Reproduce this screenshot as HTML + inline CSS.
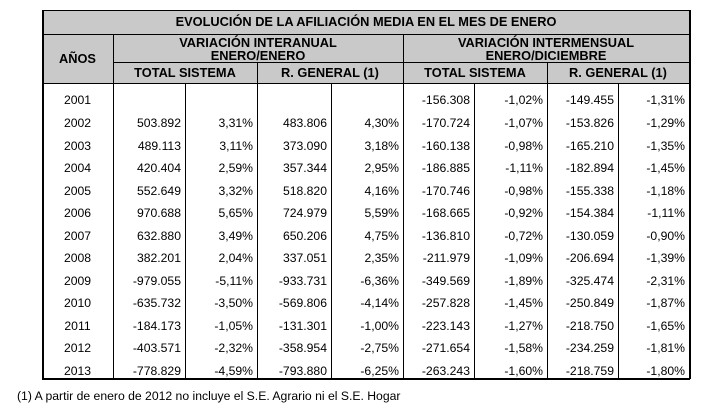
<!DOCTYPE html>
<html><head><meta charset="utf-8">
<style>
*{margin:0;padding:0;box-sizing:border-box}
html,body{width:705px;height:409px;background:#fff;overflow:hidden}
body{position:relative;font-family:"Liberation Sans",sans-serif;color:#000}
.ln{position:absolute;background:#000}
.grey{position:absolute;left:42px;top:10px;width:647px;height:73px;background:#c9c9c9}
.h{position:absolute;font-weight:bold;font-size:12.8px;text-align:center;white-space:nowrap;line-height:13px}
.r{position:absolute;left:0;width:705px;height:14px;line-height:14px;font-size:12.2px}
.r span{position:absolute;top:0;text-align:right;padding-right:4px;white-space:nowrap}
.r span.y{text-align:center;padding:0}
.fn{position:absolute;left:17px;top:389px;font-size:12.2px;line-height:14px;white-space:nowrap}
</style></head><body>
<div class="grey"></div>
<!-- horizontal lines -->
<div class="ln" style="left:42px;top:10px;width:648px;height:1px"></div>
<div class="ln" style="left:42px;top:34px;width:648px;height:1px"></div>
<div class="ln" style="left:113px;top:62px;width:577px;height:1px"></div>
<div class="ln" style="left:42px;top:83px;width:648px;height:1px"></div>
<div class="ln" style="left:42px;top:378px;width:648px;height:1.5px"></div>
<!-- vertical lines -->
<div class="ln" style="left:42px;top:10px;width:1.5px;height:369px"></div>
<div class="ln" style="left:689px;top:10px;width:1.5px;height:369px"></div>
<div class="ln" style="left:113px;top:34px;width:1px;height:345px"></div>
<div class="ln" style="left:403px;top:34px;width:1px;height:345px"></div>
<div class="ln" style="left:257px;top:62px;width:1px;height:317px"></div>
<div class="ln" style="left:547px;top:62px;width:1px;height:317px"></div>
<div class="ln" style="left:185px;top:83px;width:1px;height:296px"></div>
<div class="ln" style="left:331px;top:83px;width:1px;height:296px"></div>
<div class="ln" style="left:474px;top:83px;width:1px;height:296px"></div>
<div class="ln" style="left:618px;top:83px;width:1px;height:296px"></div>

<!-- headers -->
<div class="h" style="left:42px;width:648px;top:15px">EVOLUCIÓN DE LA AFILIACIÓN MEDIA EN EL MES DE ENERO</div>
<div class="h" style="left:42px;width:71px;top:52px">AÑOS</div>
<div class="h" style="left:113px;width:290px;top:36px">VARIACIÓN INTERANUAL<br>ENERO/ENERO</div>
<div class="h" style="left:403px;width:286px;top:36px">VARIACIÓN INTERMENSUAL<br>ENERO/DICIEMBRE</div>
<div class="h" style="left:113px;width:144px;top:66px">TOTAL SISTEMA</div>
<div class="h" style="left:257px;width:146px;top:66px">R. GENERAL (1)</div>
<div class="h" style="left:403px;width:144px;top:66px">TOTAL SISTEMA</div>
<div class="h" style="left:547px;width:142px;top:66px">R. GENERAL (1)</div>

<!-- rows -->
<div class="r" style="top:93px"><span class="y" style="left:42px;width:71px">2001</span><span style="left:113px;width:72px"></span><span style="left:185px;width:72px"></span><span style="left:257px;width:74px"></span><span style="left:331px;width:72px"></span><span style="left:403px;width:71px">-156.308</span><span style="left:474px;width:73px">-1,02%</span><span style="left:547px;width:71px">-149.455</span><span style="left:618px;width:71px">-1,31%</span></div>
<div class="r" style="top:116px"><span class="y" style="left:42px;width:71px">2002</span><span style="left:113px;width:72px">503.892</span><span style="left:185px;width:72px">3,31%</span><span style="left:257px;width:74px">483.806</span><span style="left:331px;width:72px">4,30%</span><span style="left:403px;width:71px">-170.724</span><span style="left:474px;width:73px">-1,07%</span><span style="left:547px;width:71px">-153.826</span><span style="left:618px;width:71px">-1,29%</span></div>
<div class="r" style="top:138.5px"><span class="y" style="left:42px;width:71px">2003</span><span style="left:113px;width:72px">489.113</span><span style="left:185px;width:72px">3,11%</span><span style="left:257px;width:74px">373.090</span><span style="left:331px;width:72px">3,18%</span><span style="left:403px;width:71px">-160.138</span><span style="left:474px;width:73px">-0,98%</span><span style="left:547px;width:71px">-165.210</span><span style="left:618px;width:71px">-1,35%</span></div>
<div class="r" style="top:161px"><span class="y" style="left:42px;width:71px">2004</span><span style="left:113px;width:72px">420.404</span><span style="left:185px;width:72px">2,59%</span><span style="left:257px;width:74px">357.344</span><span style="left:331px;width:72px">2,95%</span><span style="left:403px;width:71px">-186.885</span><span style="left:474px;width:73px">-1,11%</span><span style="left:547px;width:71px">-182.894</span><span style="left:618px;width:71px">-1,45%</span></div>
<div class="r" style="top:183.5px"><span class="y" style="left:42px;width:71px">2005</span><span style="left:113px;width:72px">552.649</span><span style="left:185px;width:72px">3,32%</span><span style="left:257px;width:74px">518.820</span><span style="left:331px;width:72px">4,16%</span><span style="left:403px;width:71px">-170.746</span><span style="left:474px;width:73px">-0,98%</span><span style="left:547px;width:71px">-155.338</span><span style="left:618px;width:71px">-1,18%</span></div>
<div class="r" style="top:206px"><span class="y" style="left:42px;width:71px">2006</span><span style="left:113px;width:72px">970.688</span><span style="left:185px;width:72px">5,65%</span><span style="left:257px;width:74px">724.979</span><span style="left:331px;width:72px">5,59%</span><span style="left:403px;width:71px">-168.665</span><span style="left:474px;width:73px">-0,92%</span><span style="left:547px;width:71px">-154.384</span><span style="left:618px;width:71px">-1,11%</span></div>
<div class="r" style="top:228.5px"><span class="y" style="left:42px;width:71px">2007</span><span style="left:113px;width:72px">632.880</span><span style="left:185px;width:72px">3,49%</span><span style="left:257px;width:74px">650.206</span><span style="left:331px;width:72px">4,75%</span><span style="left:403px;width:71px">-136.810</span><span style="left:474px;width:73px">-0,72%</span><span style="left:547px;width:71px">-130.059</span><span style="left:618px;width:71px">-0,90%</span></div>
<div class="r" style="top:251px"><span class="y" style="left:42px;width:71px">2008</span><span style="left:113px;width:72px">382.201</span><span style="left:185px;width:72px">2,04%</span><span style="left:257px;width:74px">337.051</span><span style="left:331px;width:72px">2,35%</span><span style="left:403px;width:71px">-211.979</span><span style="left:474px;width:73px">-1,09%</span><span style="left:547px;width:71px">-206.694</span><span style="left:618px;width:71px">-1,39%</span></div>
<div class="r" style="top:273.5px"><span class="y" style="left:42px;width:71px">2009</span><span style="left:113px;width:72px">-979.055</span><span style="left:185px;width:72px">-5,11%</span><span style="left:257px;width:74px">-933.731</span><span style="left:331px;width:72px">-6,36%</span><span style="left:403px;width:71px">-349.569</span><span style="left:474px;width:73px">-1,89%</span><span style="left:547px;width:71px">-325.474</span><span style="left:618px;width:71px">-2,31%</span></div>
<div class="r" style="top:296px"><span class="y" style="left:42px;width:71px">2010</span><span style="left:113px;width:72px">-635.732</span><span style="left:185px;width:72px">-3,50%</span><span style="left:257px;width:74px">-569.806</span><span style="left:331px;width:72px">-4,14%</span><span style="left:403px;width:71px">-257.828</span><span style="left:474px;width:73px">-1,45%</span><span style="left:547px;width:71px">-250.849</span><span style="left:618px;width:71px">-1,87%</span></div>
<div class="r" style="top:318.5px"><span class="y" style="left:42px;width:71px">2011</span><span style="left:113px;width:72px">-184.173</span><span style="left:185px;width:72px">-1,05%</span><span style="left:257px;width:74px">-131.301</span><span style="left:331px;width:72px">-1,00%</span><span style="left:403px;width:71px">-223.143</span><span style="left:474px;width:73px">-1,27%</span><span style="left:547px;width:71px">-218.750</span><span style="left:618px;width:71px">-1,65%</span></div>
<div class="r" style="top:341px"><span class="y" style="left:42px;width:71px">2012</span><span style="left:113px;width:72px">-403.571</span><span style="left:185px;width:72px">-2,32%</span><span style="left:257px;width:74px">-358.954</span><span style="left:331px;width:72px">-2,75%</span><span style="left:403px;width:71px">-271.654</span><span style="left:474px;width:73px">-1,58%</span><span style="left:547px;width:71px">-234.259</span><span style="left:618px;width:71px">-1,81%</span></div>
<div class="r" style="top:363.5px"><span class="y" style="left:42px;width:71px">2013</span><span style="left:113px;width:72px">-778.829</span><span style="left:185px;width:72px">-4,59%</span><span style="left:257px;width:74px">-793.880</span><span style="left:331px;width:72px">-6,25%</span><span style="left:403px;width:71px">-263.243</span><span style="left:474px;width:73px">-1,60%</span><span style="left:547px;width:71px">-218.759</span><span style="left:618px;width:71px">-1,80%</span></div>

<div class="fn">(1) A partir de enero de 2012 no incluye el S.E. Agrario ni el S.E. Hogar</div>
</body></html>
